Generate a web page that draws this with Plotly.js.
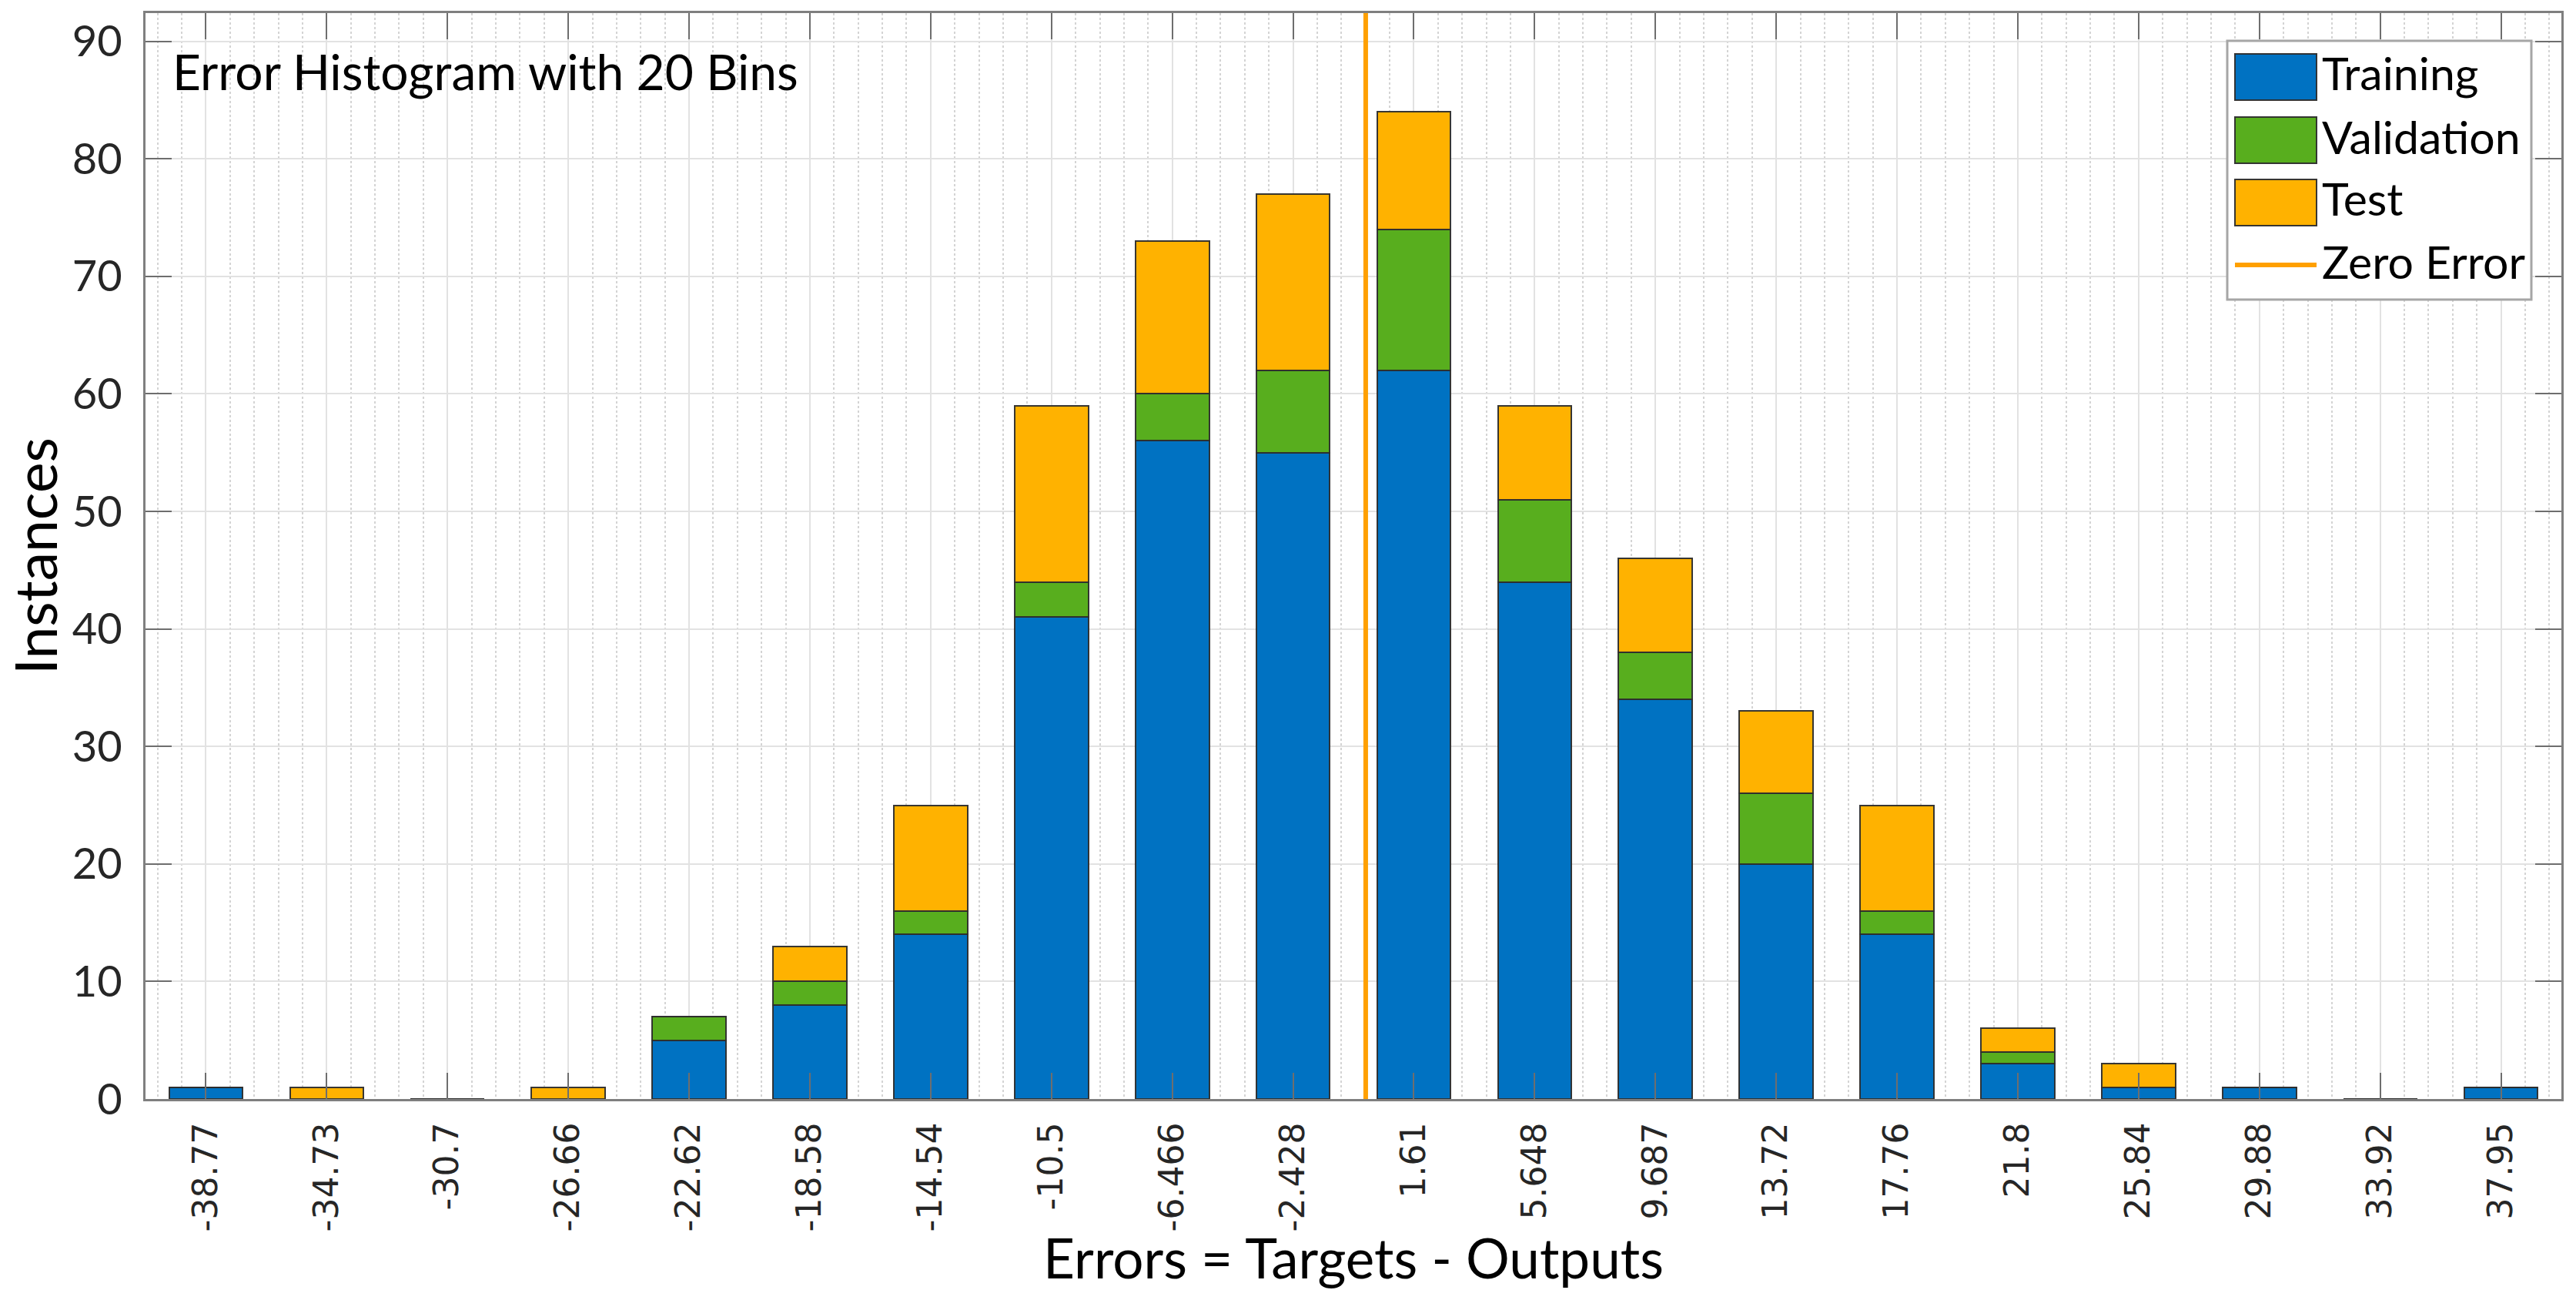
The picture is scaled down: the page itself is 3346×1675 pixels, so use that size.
<!DOCTYPE html>
<html>
<head>
<meta charset="utf-8">
<script src="https://cdn.plot.ly/plotly-3.0.1.min.js"></script>
<style>html,body{margin:0;padding:0;background:#fff;}#chart{width:3346px;height:1675px;}</style>
</head>
<body>
<div id="chart"></div>
<script>
// ---- data ----
const binCenters = [-38.77, -34.73, -30.7, -26.66, -22.62, -18.58, -14.54, -10.5, -6.466, -2.428, 1.61, 5.648, 9.687, 13.72, 17.76, 21.8, 25.84, 29.88, 33.92, 37.95];
const tickLabels = ["-38.77", "-34.73", "-30.7", "-26.66", "-22.62", "-18.58", "-14.54", "-10.5", "-6.466", "-2.428", "1.61", "5.648", "9.687", "13.72", "17.76", "21.8", "25.84", "29.88", "33.92", "37.95"];
const training   = [1, 0, 0, 0, 5, 8, 14, 41, 56, 55, 62, 44, 34, 20, 14, 3, 1, 1, 0, 1];
const validation = [0, 0, 0, 0, 2, 2, 2, 3, 4, 7, 12, 7, 4, 6, 2, 1, 0, 0, 0, 0];
const test       = [0, 1, 0, 1, 0, 3, 9, 15, 13, 15, 10, 8, 8, 7, 9, 2, 2, 0, 0, 0];
const seriesNames = ["Training", "Validation", "Test"];
const zeroErrorLabel = "Zero Error";
const zeroError = 0;
const yTicks = [0, 10, 20, 30, 40, 50, 60, 70, 80, 90];

// ---- style ----
const W = 3346, H = 1675;
const M = {l: 189, r: 19, t: 17, b: 248};
const colors = ["#0072C2", "#58AE1E", "#FFB200"];
const zeroColor = "#FFA000";
const outline = "rgba(45,45,45,0.95)";
const binStep = (binCenters[binCenters.length - 1] - binCenters[0]) / (binCenters.length - 1);
const barW = binStep * 0.61;
const xRange = [binCenters[0] - binStep / 2, binCenters[binCenters.length - 1] + binStep / 2];
const yMax = Math.max(...training.map((v, i) => v + validation[i] + test[i])) * 1.1;

const PW = W - M.l - M.r, PH = H - M.t - M.b;
const px = x => (x - M.l) / PW;          // pixel -> paper x
const py = y => (H - M.b - y) / PH;      // pixel -> paper y

const traces = [training, validation, test].map((vals, i) => ({
  type: "bar",
  x: binCenters,
  y: vals,
  name: seriesNames[i],
  width: barW,
  marker: {color: colors[i], line: {color: outline, width: 2}},
  showlegend: false,
  hoverinfo: "x+y+name"
}));

// custom legend (large swatches like the original)
const shapes = [
  {type: "line", xref: "x", yref: "paper", x0: zeroError, x1: zeroError, y0: 0, y1: 1,
   line: {color: zeroColor, width: 6}, layer: "above"},
  {type: "rect", xref: "paper", yref: "paper", x0: px(2893), x1: px(3288), y0: py(389), y1: py(53),
   fillcolor: "#ffffff", line: {color: "#a6a6a6", width: 3}, layer: "above"}
];
const annotations = [];
const rowY = [100, 182, 263, 344];
const swX0 = 2903, swX1 = 3009, swH = 60;
for (let i = 0; i < 3; i++) {
  shapes.push({type: "rect", xref: "paper", yref: "paper",
    x0: px(swX0), x1: px(swX1), y0: py(rowY[i] + swH / 2), y1: py(rowY[i] - swH / 2),
    fillcolor: colors[i], line: {color: outline, width: 2}, layer: "above"});
}
shapes.push({type: "line", xref: "paper", yref: "paper", x0: px(swX0), x1: px(swX1),
  y0: py(rowY[3]), y1: py(rowY[3]), line: {color: zeroColor, width: 6}, layer: "above"});
const legendLabels = seriesNames.concat([zeroErrorLabel]);
legendLabels.forEach((t, i) => annotations.push({
  xref: "paper", yref: "paper", x: px(3014), y: py(rowY[i] - 5), xanchor: "left", yanchor: "middle",
  text: t, showarrow: false, font: {family: "Lato, sans-serif", size: 59, color: "#000"}
}));
annotations.push({
  xref: "paper", yref: "paper", x: px(222), y: py(93), xanchor: "left", yanchor: "middle",
  text: "Error Histogram with 20 Bins", showarrow: false,
  font: {family: "Lato, sans-serif", size: 64, color: "#000"}
});

const layout = {
  width: W, height: H,
  margin: M,
  paper_bgcolor: "#ffffff", plot_bgcolor: "#ffffff",
  barmode: "stack",
  showlegend: false,
  xaxis: {
    range: xRange,
    tickmode: "array", tickvals: binCenters, ticktext: tickLabels,
    tickangle: -90,
    tickfont: {family: "DejaVu Sans, sans-serif", size: 44, color: "#262626"},
    ticks: "inside", ticklen: 34, tickwidth: 2, tickcolor: "#6e6e6e",
    ticklabelstandoff: 10,
    showline: true, linecolor: "#7f7f7f", linewidth: 3, mirror: "ticks",
    showgrid: true, gridcolor: "#e2e2e2", gridwidth: 2,
    zeroline: false,
    minor: {tickmode: "linear", tick0: binCenters[0], dtick: binStep / 5, showgrid: true,
            gridcolor: "#d4d4d4", gridwidth: 2, griddash: "dot", ticks: ""},
    title: {text: "Errors = Targets - Outputs", standoff: 10,
            font: {family: "Lato, sans-serif", size: 71, color: "#000"}},
    automargin: false
  },
  yaxis: {
    range: [0, yMax],
    tickmode: "array", tickvals: yTicks,
    tickfont: {family: "Lato, sans-serif", size: 56, color: "#262626"},
    ticks: "inside", ticklen: 34, tickwidth: 2, tickcolor: "#6e6e6e",
    ticklabelstandoff: 16,
    showline: true, linecolor: "#7f7f7f", linewidth: 3, mirror: "ticks",
    showgrid: true, gridcolor: "#e2e2e2", gridwidth: 2,
    zeroline: false,
    title: {text: "Instances", standoff: 42,
            font: {family: "Lato, sans-serif", size: 75, color: "#000"}},
    automargin: false
  },
  shapes: shapes,
  annotations: annotations
};

Plotly.newPlot("chart", traces, layout, {displayModeBar: false, responsive: false});
</script>
</body>
</html>
